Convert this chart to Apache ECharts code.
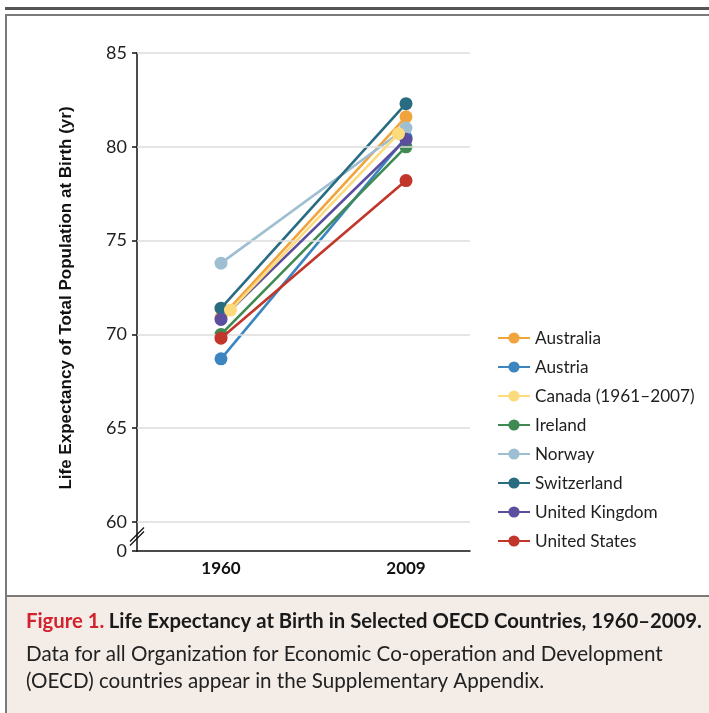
<!DOCTYPE html>
<html>
<head>
<meta charset="utf-8">
<script src="https://cdn.jsdelivr.net/npm/echarts@6/dist/echarts.min.js"></script>
<style>
html,body{margin:0;padding:0;background:#fff;}
#chart{width:709px;height:713px;}
</style>
</head>
<body>
<div id="chart"></div>
<script>
// ---- data ----
const years = [1960, 2009];
const canadaYears = [1962.5, 2007];
const yTicks = [60, 65, 70, 75, 80, 85];
const countries = ['Australia', 'Austria', 'Canada (1961\u20132007)', 'Ireland', 'Norway', 'Switzerland', 'United Kingdom', 'United States'];
const australia = [70.9, 81.6];
const austria = [68.7, 80.5];
const canada = [71.3, 80.7];
const ireland = [70.0, 80.0];
const norway = [73.8, 81.0];
const switzerland = [71.4, 82.3];
const unitedKingdom = [70.8, 80.4];
const unitedStates = [69.8, 78.2];
const breakLabel = '0';

// ---- styles ----
const colors = ['#F1A43C', '#3B86C1', '#FDDA7C', '#3F8A52', '#9EBFD2', '#276C81', '#5B4E9F', '#C1352B'];
const zOrder = [3, 3, 6, 3, 3, 4, 5, 5];
const seriesValues = [australia, austria, canada, ireland, norway, switzerland, unitedKingdom, unitedStates];
const seriesYears = [years, years, canadaYears, years, years, years, years, years];

const yAxisMin = 58.456; // visual floor of broken axis (labelled 0)
const xMin = 1937.75, xMax = 2025.95;
const tickVals = [yAxisMin].concat(yTicks);

const chart = echarts.init(document.getElementById('chart'), null, {renderer: 'canvas'});

const series = countries.map((name, i) => ({
  name: name,
  type: 'line',
  data: seriesYears[i].map((yr, j) => [yr, seriesValues[i][j]]),
  symbol: 'circle',
  symbolSize: 13,
  showSymbol: true,
  lineStyle: {width: 2.6, color: colors[i]},
  itemStyle: {color: colors[i]},
  z: zOrder[i],
  animation: false,
  emphasis: {disabled: true}
}));

series.unshift({
  type: 'line',
  data: [],
  silent: true,
  z: 1,
  markLine: {
    silent: true,
    symbol: 'none',
    animation: false,
    label: {show: false},
    lineStyle: {color: '#dcdcdc', width: 1.5, type: 'solid'},
    data: yTicks.map(v => ({yAxis: v}))
  }
});

const option = {
  backgroundColor: '#ffffff',
  animation: false,
  textStyle: {fontFamily: 'Lato, "Open Sans", sans-serif'},
  grid: {left: 137, right: 239, top: 53, bottom: 162, containLabel: false},
  title: [
    {
      left: 26, top: 611, padding: 0,
      text: '{r|Figure 1.} {b|Life Expectancy at Birth in Selected OECD Countries, 1960\u20132009.}',
      textStyle: {
        rich: {
          r: {color: '#D3222E', fontSize: 20.3, fontWeight: 'bold', fontFamily: 'Lato'},
          b: {color: '#1a1a1a', fontSize: 20.3, fontWeight: 'bold', fontFamily: 'Lato'}
        }
      }
    },
    {
      left: 26, top: 644, padding: 0,
      text: 'Data for all Organization for Economic Co-operation and Development',
      textStyle: {color: '#222', fontSize: 20.6, fontWeight: 'normal', fontFamily: 'Lato'}
    },
    {
      left: 26, top: 671, padding: 0,
      text: '(OECD) countries appear in the Supplementary Appendix.',
      textStyle: {color: '#222', fontSize: 20.6, fontWeight: 'normal', fontFamily: 'Lato'}
    }
  ],
  legend: {
    orient: 'vertical',
    left: 497, top: 329, padding: 0,
    itemWidth: 32, itemHeight: 14,
    itemGap: 11,
    data: countries,
    selectedMode: false,
    textStyle: {fontSize: 17.2, color: '#1f1f1f', lineHeight: 18, fontFamily: 'Lato'}
  },
  xAxis: {
    type: 'value',
    min: xMin, max: xMax,
    splitLine: {show: false},
    axisLine: {show: true, lineStyle: {color: '#111', width: 1.5}},
    axisTick: {show: false},
    axisLabel: {
      customValues: years,
      formatter: v => String(v),
      fontSize: 17, fontWeight: 'bold', color: '#111', margin: 9, fontFamily: 'Lato'
    }
  },
  yAxis: {
    type: 'value',
    min: yAxisMin, max: 85,
    name: 'Life Expectancy of Total Population at Birth (yr)',
    nameLocation: 'middle',
    nameGap: 62,
    nameTextStyle: {fontSize: 17, fontWeight: 'bold', color: '#111', fontFamily: '"Liberation Sans", Arial, sans-serif', padding: [0, 0, 0, 8]},
    splitLine: {show: false},
    axisLine: {show: true, lineStyle: {color: '#111', width: 1.5}},
    axisTick: {show: true, length: 5, customValues: tickVals, lineStyle: {color: '#111', width: 1.5}},
    axisLabel: {
      customValues: tickVals,
      formatter: v => (v < yTicks[0] ? breakLabel : String(v)),
      fontSize: 18, color: '#1f1f1f', margin: 10, fontFamily: 'Lato'
    }
  },
  series: series
};

chart.setOption(option);

// decorations: frame, caption band, axis-break marks
const c = chart.convertToPixel({gridIndex: 0}, [xMin, (yAxisMin + yTicks[0]) / 2]);
const bx = c[0], by = c[1];
chart.setOption({
  graphic: [
    {type: 'rect', z: -10, shape: {x: 7, y: 597, width: 702, height: 116}, style: {fill: '#F3ECE7'}},
    {type: 'line', z: 100, shape: {x1: 5, y1: 8.5, x2: 709, y2: 8.5}, style: {stroke: '#555', lineWidth: 3}},
    {type: 'line', z: 100, shape: {x1: 5, y1: 15, x2: 709, y2: 15}, style: {stroke: '#7a7a7a', lineWidth: 2}},
    {type: 'line', z: 100, shape: {x1: 6, y1: 14, x2: 6, y2: 713}, style: {stroke: '#7a7a7a', lineWidth: 2}},
    {type: 'line', z: 100, shape: {x1: 5, y1: 596, x2: 709, y2: 596}, style: {stroke: '#7a7a7a', lineWidth: 2}},
    {type: 'line', z: 100, shape: {x1: bx - 7, y1: by + 5, x2: bx + 7, y2: by - 9}, style: {stroke: '#111', lineWidth: 1.3}},
    {type: 'line', z: 100, shape: {x1: bx - 7, y1: by + 9, x2: bx + 7, y2: by - 5}, style: {stroke: '#111', lineWidth: 1.3}}
  ]
});
</script>
</body>
</html>
